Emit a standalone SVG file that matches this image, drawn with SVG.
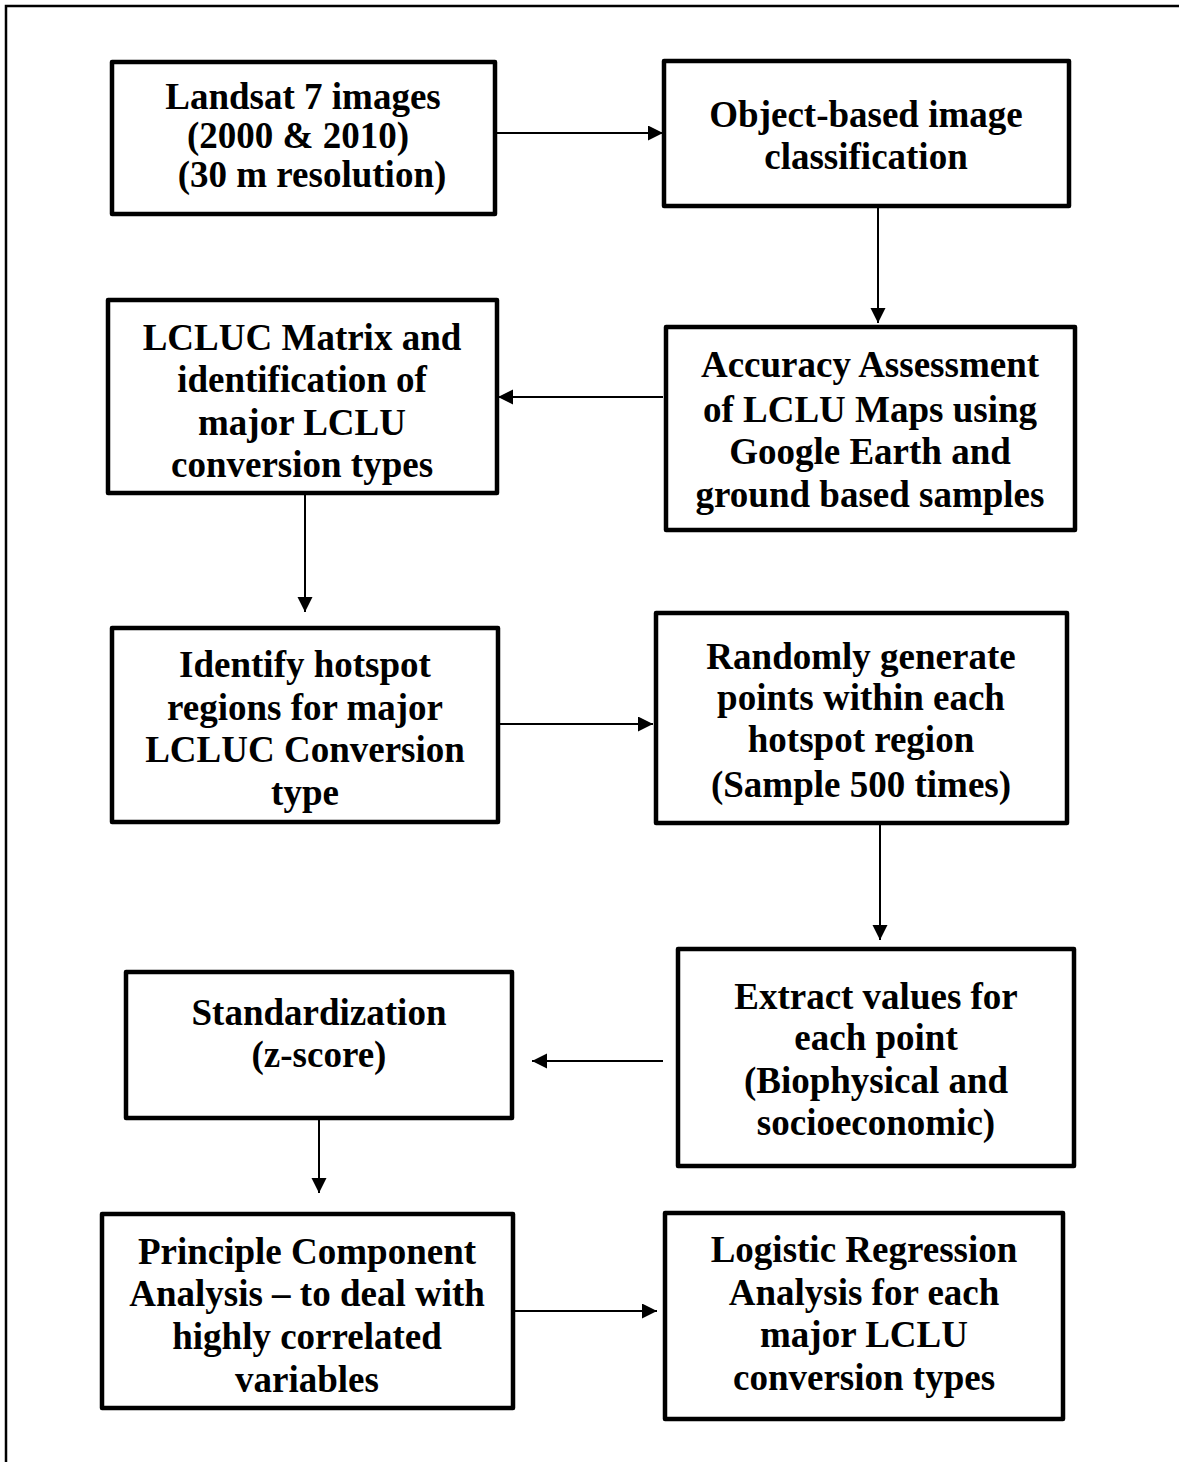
<svg xmlns="http://www.w3.org/2000/svg" width="1179" height="1462" viewBox="0 0 1179 1462">
<style>
.frame{fill:none;stroke:#000;stroke-width:2.5}
.box{fill:#fff;stroke:#000;stroke-width:4.5;stroke-linejoin:round}
.t{font-family:"Liberation Serif","Times New Roman",serif;font-weight:bold;font-size:37px;fill:#000;text-anchor:middle}
.c{fill:none;stroke:#000;stroke-width:2}
</style>
<defs>
<marker id="ah" markerUnits="userSpaceOnUse" markerWidth="16" markerHeight="16" refX="15" refY="7.5" orient="auto">
<path d="M0,0 L15,7.5 L0,15 z" fill="#000"/>
</marker>
</defs>
<rect width="1179" height="1462" fill="#fff"/>
<rect class="frame" x="6" y="6" width="1190" height="1480"/>
<g id="n1"><rect class="box" x="112" y="62" width="383" height="152"/>
<text class="t" x="303" y="109">Landsat 7 images</text>
<text class="t" x="298" y="148">(2000 &amp; 2010)</text>
<text class="t" x="312" y="187">(30 m resolution)</text></g>
<g id="n2"><rect class="box" x="664" y="61" width="405" height="145"/>
<text class="t" x="866" y="127">Object-based image</text>
<text class="t" x="866" y="169">classification</text></g>
<g id="n3"><rect class="box" x="108" y="300" width="389" height="193"/>
<text class="t" x="302" y="350">LCLUC Matrix and</text>
<text class="t" x="302" y="392">identification of</text>
<text class="t" x="302" y="435">major LCLU</text>
<text class="t" x="302" y="477">conversion types</text></g>
<g id="n4"><rect class="box" x="666" y="327" width="409" height="203"/>
<text class="t" x="870" y="377">Accuracy Assessment</text>
<text class="t" x="870" y="422">of LCLU Maps using</text>
<text class="t" x="870" y="464">Google Earth and</text>
<text class="t" x="870" y="507">ground based samples</text></g>
<g id="n5"><rect class="box" x="112" y="628" width="386" height="194"/>
<text class="t" x="305" y="677">Identify hotspot</text>
<text class="t" x="305" y="720">regions for major</text>
<text class="t" x="305" y="762">LCLUC Conversion</text>
<text class="t" x="305" y="805">type</text></g>
<g id="n6"><rect class="box" x="656" y="613" width="411" height="210"/>
<text class="t" x="861" y="669">Randomly generate</text>
<text class="t" x="861" y="710">points within each</text>
<text class="t" x="861" y="752">hotspot region</text>
<text class="t" x="861" y="797">(Sample 500 times)</text></g>
<g id="n7"><rect class="box" x="678" y="949" width="396" height="217"/>
<text class="t" x="876" y="1009">Extract values for</text>
<text class="t" x="876" y="1050">each point</text>
<text class="t" x="876" y="1093">(Biophysical and</text>
<text class="t" x="876" y="1135">socioeconomic)</text></g>
<g id="n8"><rect class="box" x="126" y="972" width="386" height="146"/>
<text class="t" x="319" y="1025">Standardization</text>
<text class="t" x="319" y="1067">(z-score)</text></g>
<g id="n9"><rect class="box" x="102" y="1214" width="411" height="194"/>
<text class="t" x="307" y="1264">Principle Component</text>
<text class="t" x="307" y="1306">Analysis – to deal with</text>
<text class="t" x="307" y="1349">highly correlated</text>
<text class="t" x="307" y="1392">variables</text></g>
<g id="n10"><rect class="box" x="665" y="1213" width="398" height="206"/>
<text class="t" x="864" y="1262">Logistic Regression</text>
<text class="t" x="864" y="1305">Analysis for each</text>
<text class="t" x="864" y="1347">major LCLU</text>
<text class="t" x="864" y="1390">conversion types</text></g>
<g id="connectors">
<line class="c" x1="497" y1="133" x2="663" y2="133" marker-end="url(#ah)"/>
<line class="c" x1="878" y1="208" x2="878" y2="323" marker-end="url(#ah)"/>
<line class="c" x1="663" y1="397" x2="498" y2="397" marker-end="url(#ah)"/>
<line class="c" x1="305" y1="495" x2="305" y2="612" marker-end="url(#ah)"/>
<line class="c" x1="500" y1="724" x2="653" y2="724" marker-end="url(#ah)"/>
<line class="c" x1="880" y1="825" x2="880" y2="940" marker-end="url(#ah)"/>
<line class="c" x1="663" y1="1061" x2="532" y2="1061" marker-end="url(#ah)"/>
<line class="c" x1="319" y1="1120" x2="319" y2="1193" marker-end="url(#ah)"/>
<line class="c" x1="515" y1="1311" x2="657" y2="1311" marker-end="url(#ah)"/>
</g>
</svg>
